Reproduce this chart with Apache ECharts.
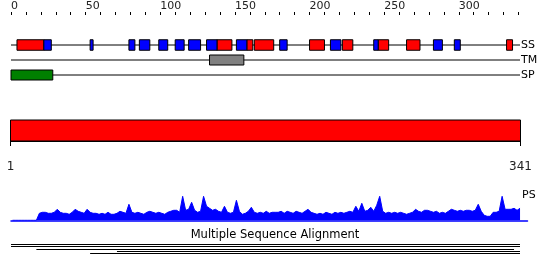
<!DOCTYPE html>
<html><head><meta charset="utf-8">
<script src="https://cdn.jsdelivr.net/npm/echarts@6/dist/echarts.min.js"></script>
<style>html,body{margin:0;padding:0;background:#fff}#c{width:550px;height:275px}</style>
</head><body><div id="c"></div>
<script>
// ---- data ----
const seqLength = 341;
const rowNames = ['SS', 'TM', 'SP'];
const topTickValues = [0,10,20,30,40,50,60,70,80,90,100,110,120,130,140,150,160,170,180,190,200,210,220,230,240,250,260,270,280,290,300,310,320,330,340];
const topLabelValues = [0,50,100,150,200,250,300];
const bottomTickValues = [1, 341];
const helixSegments = [[5,22],[139,148],[159,162],[164,176],[201,210],[223,229],[247,253],[266,274],[333,336]];
const strandSegments = [[23,27],[54,55],[80,83],[87,93],[100,105],[111,116],[120,127],[132,138],[152,158],[181,185],[215,221],[244,246],[284,289],[298,301]];
const tmSegments = [[134,156]];
const spSegments = [[1,28]];
const domainSegments = [[1,341]];
// profile, one value every 2 residues (residues 1,3,5,...,341)
const psValues = [
 0,0,0,0,0,0,0,0,0,
 7,8,8,7,7,8,11,8,7,7,
 6,8,11,9,8,7,11,8,7,7,
 6,7,6,8,6,6,7,9,8,7,
 16,8,7,8,7,6,8,9,8,7,
 8,7,6,8,9,10,10,8,24,10,
 11,18,10,8,9,24,14,12,10,11,
 9,8,14,8,7,8,20,9,6,7,
 9,13,8,7,8,7,9,7,8,8,
 8,9,7,9,8,7,9,8,7,9,
 11,8,7,6,7,6,8,7,6,8,
 7,8,7,8,9,8,14,9,17,9,
 10,13,9,15,24,9,7,8,7,8,
 7,8,7,6,7,8,11,9,8,10,
 10,9,8,9,7,8,7,9,11,10,
 9,10,9,10,10,9,10,16,9,5,
 4,4,8,8,9,24,11,11,11,12,
 10,12
];
const msaHits = [[1,341],[1,341],[18,337],[72,341],[54,341]];

// ---- layout ----
const FONT = 'DejaVu Sans';
const msaTrackOffsets = [0, 2, 5, 7, 9]; // px below MSA grid top

function boxes(segs, row) { return segs.map(s => [s[0], s[1], row]); }
function boxRender(h) {
  return function (params, api) {
    const s = api.value(0), e = api.value(1), row = api.value(2);
    const a = api.coord([s - 1, row]), b = api.coord([e, row]);
    return { type: 'rect',
      shape: { x: a[0], y: a[1] - h / 2, width: b[0] - a[0], height: h },
      style: { fill: api.visual('color'), stroke: '#000', lineWidth: 1 } };
  };
}
function lineRender(color, w) {
  return function (params, api) {
    const s = api.value(0), e = api.value(1), row = api.value(2);
    const a = api.coord([s - 1, row]), b = api.coord([e, row]);
    return { type: 'line', shape: { x1: a[0], y1: a[1], x2: b[0], y2: b[1] },
      style: { stroke: color, lineWidth: w } };
  };
}
const psData = psValues.map((v, i) => [2 * i + 1, v]);

const chart = echarts.init(document.getElementById('c'), null, { renderer: 'canvas' });
chart.setOption({
  animation: false,
  backgroundColor: '#fff',
  textStyle: { fontFamily: FONT },
  title: [
    { text: 'PS', left: 522, top: 189.5, padding: 0, textStyle: { fontSize: 11, fontWeight: 'normal', color: '#000', fontFamily: FONT } },
    { text: 'Multiple Sequence Alignment', left: 'center', top: 229.5, padding: 0, textStyle: { fontSize: 11.5, fontWeight: 'normal', color: '#000', fontFamily: FONT } }
  ],
  grid: [
    { left: 11, right: 30, top: 37.5, height: 45 },
    { left: 10.5, right: 29.5, top: 120, height: 21 },
    { left: 11, right: 22.5, top: 195.3, height: 25 },
    { left: 11, right: 30, top: 244.5, height: 10 }
  ],
  xAxis: [
    { gridIndex: 0, type: 'value', min: 0, max: seqLength, position: 'top', offset: 22.5,
      axisLine: { lineStyle: { color: '#000', width: 1 } },
      axisTick: { show: true, length: 3, customValues: topTickValues, lineStyle: { color: '#000' } },
      axisLabel: { customValues: topLabelValues, align: 'left', margin: 3, fontSize: 11, color: '#222', fontFamily: FONT },
      splitLine: { show: false } },
    { gridIndex: 1, type: 'value', min: 1, max: seqLength, position: 'bottom', offset: 10,
      axisLine: { lineStyle: { color: '#000', width: 1 } },
      axisTick: { show: true, length: 5, customValues: bottomTickValues, lineStyle: { color: '#000' } },
      axisLabel: { customValues: bottomTickValues, margin: 10, fontSize: 12, color: '#222', fontFamily: FONT },
      splitLine: { show: false } },
    { gridIndex: 2, type: 'value', min: 0, max: 346,
      axisLine: { lineStyle: { color: '#0000ff', width: 1.5 } },
      axisTick: { show: false }, axisLabel: { show: false }, splitLine: { show: false } },
    { gridIndex: 3, type: 'value', min: 0, max: seqLength, show: false }
  ],
  yAxis: [
    { gridIndex: 0, type: 'category', data: rowNames, inverse: true, position: 'right',
      axisLine: { show: false }, axisTick: { show: false },
      axisLabel: { margin: 1, fontSize: 11, color: '#000', fontFamily: FONT }, splitLine: { show: false } },
    { gridIndex: 1, type: 'value', min: 0, max: 1, show: false },
    { gridIndex: 2, type: 'value', min: 0, max: 25, show: false },
    { gridIndex: 3, type: 'value', min: 0, max: 10, inverse: true, show: false }
  ],
  series: [
    { type: 'custom', xAxisIndex: 0, yAxisIndex: 0, renderItem: lineRender('#000', 1), z: 1,
      encode: { x: [0, 1], y: 2 }, data: [[1, seqLength, 0], [1, seqLength, 1], [1, seqLength, 2]] },
    { type: 'custom', xAxisIndex: 0, yAxisIndex: 0, renderItem: boxRender(10.5), z: 2,
      itemStyle: { color: '#ff0000' }, encode: { x: [0, 1], y: 2 }, data: boxes(helixSegments, 0) },
    { type: 'custom', xAxisIndex: 0, yAxisIndex: 0, renderItem: boxRender(10.5), z: 2,
      itemStyle: { color: '#0000ff' }, encode: { x: [0, 1], y: 2 }, data: boxes(strandSegments, 0) },
    { type: 'custom', xAxisIndex: 0, yAxisIndex: 0, renderItem: boxRender(10), z: 2,
      itemStyle: { color: '#808080' }, encode: { x: [0, 1], y: 2 }, data: boxes(tmSegments, 1) },
    { type: 'custom', xAxisIndex: 0, yAxisIndex: 0, renderItem: boxRender(10), z: 2,
      itemStyle: { color: '#008000' }, encode: { x: [0, 1], y: 2 }, data: boxes(spSegments, 2) },
    { type: 'custom', xAxisIndex: 1, yAxisIndex: 1, z: 2,
      itemStyle: { color: '#ff0000' }, encode: { x: [0, 1] },
      renderItem: function (params, api) {
        const a = api.coord([api.value(0), 0]), b = api.coord([api.value(1), 1]);
        return { type: 'rect', shape: { x: a[0], y: b[1], width: b[0] - a[0], height: a[1] - b[1] },
          style: { fill: api.visual('color'), stroke: '#000', lineWidth: 1 } };
      },
      data: domainSegments },
    { type: 'line', xAxisIndex: 2, yAxisIndex: 2, data: psData, showSymbol: false, symbol: 'none',
      lineStyle: { color: '#0000ff', width: 1 }, itemStyle: { color: '#0000ff' },
      areaStyle: { color: '#0000ff', opacity: 1 } },
    { type: 'custom', xAxisIndex: 3, yAxisIndex: 3, renderItem: lineRender('#000', 1),
      encode: { x: [0, 1], y: 2 }, data: msaHits.map((h, i) => [h[0], h[1], msaTrackOffsets[i]]) }
  ]
});
</script></body></html>
